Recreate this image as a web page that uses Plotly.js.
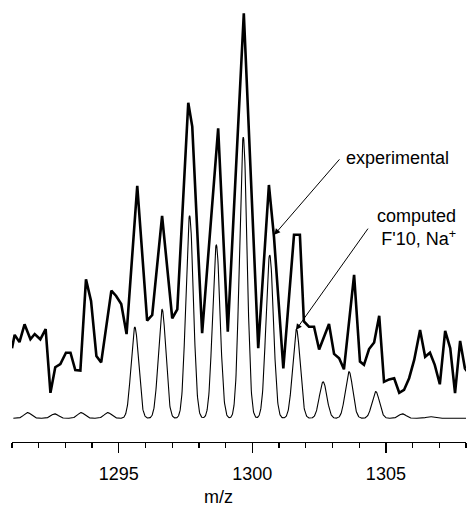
<!DOCTYPE html>
<html><head><meta charset="utf-8">
<script src="https://cdn.plot.ly/plotly-3.0.1.min.js"></script>
<style>html,body{margin:0;padding:0;background:#fff}#chart{width:468px;height:508px}</style>
</head><body><div id="chart"></div>
<script>
// Experimental spectrum (m/z, relative intensity)
const expMz = [1291.00,1291.10,1291.28,1291.47,1291.69,1291.85,1292.06,1292.26,1292.44,1292.62,
  1292.81,1293.02,1293.19,1293.37,1293.56,1293.77,1293.96,1294.16,1294.34,1294.54,
  1294.72,1294.90,1295.09,1295.29,1295.69,1296.06,1296.25,1296.62,1297.00,1297.19,
  1297.60,1297.75,1298.12,1298.72,1299.08,1299.68,1300.22,1300.62,1300.81,1301.16,
  1301.56,1301.78,1301.93,1302.12,1302.31,1302.50,1302.87,1303.06,1303.25,1303.43,
  1303.81,1304.03,1304.18,1304.37,1304.56,1304.75,1304.93,1305.12,1305.31,1305.50,
  1305.68,1305.87,1306.06,1306.28,1306.47,1306.65,1306.83,1307.02,1307.22,1307.41,
  1307.59,1307.78,1307.96,1308.08];
const expInt = [17.3,20.6,18.8,23.2,19.5,20.8,19.5,22.0,6.3,12.6,
  13.4,16.2,16.2,11.9,11.8,34.3,29.0,15.4,13.8,23.5,
  31.5,30.2,28.2,20.8,57.4,24.1,25.5,50.0,24.7,26.9,
  77.9,72.0,21.0,71.6,21.4,100.0,17.3,57.6,44.8,12.3,
  45.3,45.3,23.9,22.6,22.6,17.0,23.3,15.9,14.8,12.1,
  35.4,14.0,13.2,17.1,18.7,25.3,9.0,9.6,9.9,6.3,
  7.0,9.9,14.4,21.8,15.2,16.2,13.2,8.4,21.6,17.3,
  6.2,19.1,12.3,11.3];

// Computed isotope pattern (F'10, Na+): peak positions and heights
const compPeakMz = [1291.59,1292.60,1293.59,1294.59,1295.60,1296.62,1297.65,1298.65,1299.66,
  1300.65,1301.65,1302.65,1303.62,1304.62,1305.62,1306.65,1307.60];
const compPeakInt = [1.4,1.1,1.4,1.4,22.5,26.9,50.0,42.8,69.4,
  40.3,22.0,9.0,11.5,6.6,1.1,0.4,0.15];
const compSigma = 0.14;   // peak width (m/z) of the computed profile

// Build computed profile from the peak list
const compMz = [], compInt = [];
for (let m = 1291.05; m <= 1308.0001; m += 0.01) {
  let s = 0;
  for (let i = 0; i < compPeakMz.length; i++) {
    const d = (m - compPeakMz[i]) / compSigma;
    s += compPeakInt[i] * Math.exp(-0.5 * d * d);
  }
  compMz.push(m); compInt.push(s);
}

const traces = [
  {x: compMz, y: compInt, type: 'scatter', mode: 'lines', line: {color: '#000', width: 1.1}, hoverinfo: 'skip'},
  {x: expMz, y: expInt, type: 'scatter', mode: 'lines', line: {color: '#000', width: 2.6}, hoverinfo: 'skip'}
];

const layout = {
  width: 468, height: 508,
  margin: {l: 12, r: 2, t: 10, b: 66},
  paper_bgcolor: '#fff', plot_bgcolor: '#fff',
  showlegend: false,
  font: {family: '"Liberation Sans", Arial, sans-serif', size: 18, color: '#000'},
  xaxis: {
    range: [1291, 1308], showgrid: false, zeroline: false,
    showline: true, linecolor: '#000', linewidth: 1.3,
    ticks: 'outside', tick0: 1290, dtick: 5, ticklen: 10, tickwidth: 1.3, tickcolor: '#000',
    minor: {dtick: 1, tick0: 1290, ticks: 'outside', ticklen: 5, tickwidth: 1.3, tickcolor: '#000'},
    tickfont: {size: 18, color: '#000'}, ticklabelstandoff: 5
  },
  yaxis: {range: [-5.85, 100.8], visible: false},
  annotations: [
    {x: 1300.82, y: 45.3, ax: 1303.31, ay: 64.3, axref: 'x', ayref: 'y', text: '',
     showarrow: true, arrowhead: 2, arrowsize: 1.2, arrowwidth: 1, arrowcolor: '#000'},
    {x: 1301.63, y: 21.8, ax: 1304.37, ay: 47.2, axref: 'x', ayref: 'y', text: '',
     showarrow: true, arrowhead: 2, arrowsize: 1.2, arrowwidth: 1, arrowcolor: '#000'},
    {x: 1303.45, y: 64.3, xanchor: 'left', yanchor: 'middle', text: 'experimental', showarrow: false},
    {x: 1307.70, y: 47.0, xanchor: 'right', yanchor: 'middle', align: 'right',
     text: "computed<br>F'10, Na<sup>+</sup>", showarrow: false},
    {xref: 'x', x: 1298.74, yref: 'paper', y: -0.1273, yanchor: 'middle', borderpad: 0,
     text: 'm/z', showarrow: false}
  ]
};

Plotly.newPlot('chart', traces, layout, {staticPlot: true, displayModeBar: false});
</script>
</body></html>
